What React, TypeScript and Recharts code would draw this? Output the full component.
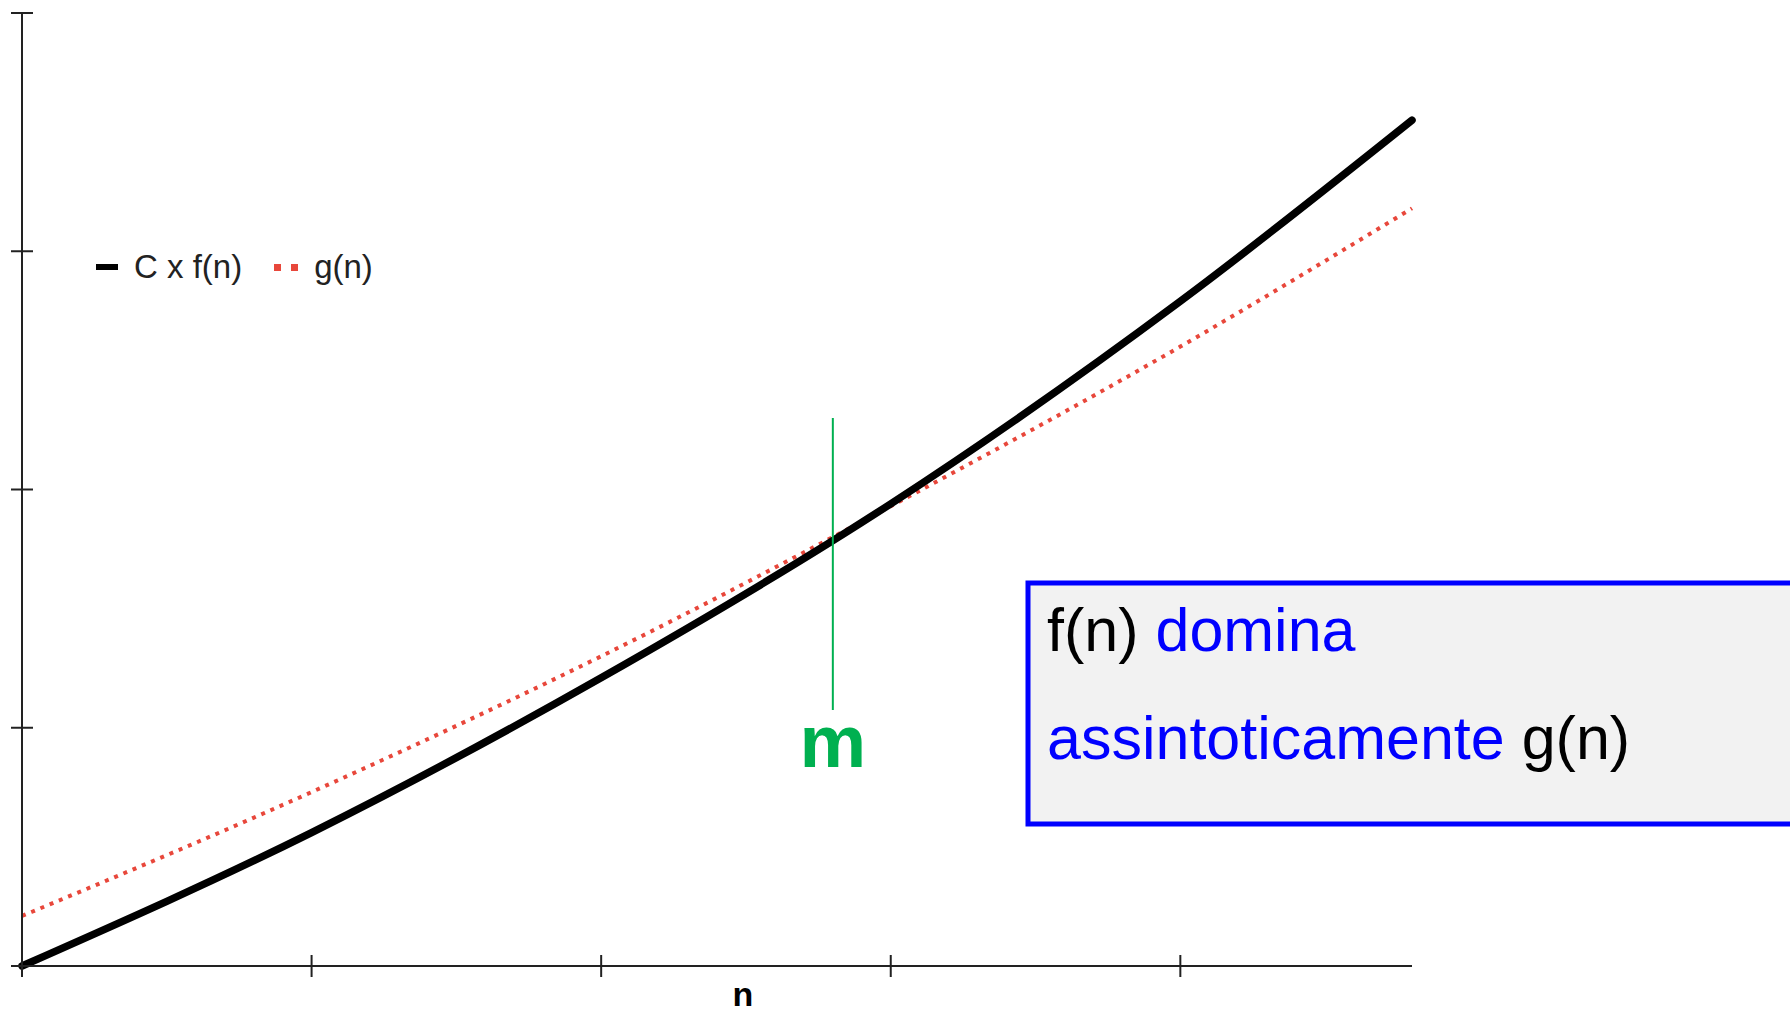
import {
  LineChart,
  Line,
  XAxis,
  YAxis,
  Legend,
  ReferenceLine,
} from "recharts";

// n values along the x axis
const nValues = [0, 1, 2, 3, 4, 4.8];
// C x f(n)
const cfValues = [0, 0.56, 1.21, 1.94, 2.79, 3.55];
// g(n)
const gValues = [0.21, 0.73, 1.3, 1.93, 2.6, 3.18];

const xTicks = [0, 1, 2, 3, 4];
const yTicks = [0, 1, 2, 3, 4];

// crossing point m and the green marker around it
const mX = 2.8;
const mTop = 2.3;
const mBottom = 1.075;

const data = nValues.map((n, i) => ({ n, cf: cfValues[i], g: gValues[i] }));

const FONT = "'Liberation Sans', Arial, sans-serif";
const AXIS = "#222";

const YTick = (props: any) => (
  <line x1={props.x - 11} x2={props.x + 11} y1={props.y} y2={props.y} stroke={AXIS} strokeWidth={2} />
);

const XTick = (props: any) => (
  <line x1={props.x} x2={props.x} y1={props.y - 11} y2={props.y + 11} stroke={AXIS} strokeWidth={2} />
);

const LegendContent = () => (
  <div style={{ display: "flex", alignItems: "center", fontFamily: FONT, fontSize: 33, color: "#222", whiteSpace: "nowrap" }}>
    <span style={{ display: "inline-block", width: 22, height: 6, background: "#000", marginRight: 16 }} />
    <span>C x f(n)</span>
    <span style={{ display: "inline-flex", gap: 10, marginLeft: 32, marginRight: 16 }}>
      <span style={{ width: 7, height: 7, background: "#e8473b" }} />
      <span style={{ width: 7, height: 7, background: "#e8473b" }} />
    </span>
    <span>g(n)</span>
  </div>
);

const App = () => {
  return (
    <div style={{ position: "absolute", left: 0, top: 0, width: 1790, height: 1014, overflow: "hidden", background: "#fff" }}>
      <LineChart width={1790} height={1014} data={data} margin={{ top: 13, right: 378, bottom: 0, left: 0 }}>
        <XAxis
          dataKey="n"
          type="number"
          domain={[0, 4.8]}
          ticks={xTicks}
          interval={0}
          height={48}
          tickSize={0}
          tickMargin={0}
          tickLine={false}
          tick={<XTick />}
          axisLine={{ stroke: AXIS, strokeWidth: 2 }}
          label={{ value: "n", position: "insideBottom", offset: 8, dx: 26, fontSize: 34, fontWeight: "bold", fill: "#000", fontFamily: FONT }}
        />
        <YAxis
          type="number"
          domain={[0, 4]}
          ticks={yTicks}
          interval={0}
          width={22}
          tickSize={0}
          tickMargin={0}
          tickLine={false}
          tick={<YTick />}
          axisLine={{ stroke: AXIS, strokeWidth: 2 }}
        />
        <Legend
          layout="horizontal"
          verticalAlign="middle"
          align="center"
          content={<LegendContent />}
          wrapperStyle={{ top: 248, left: 96, width: "auto" }}
        />
        <Line
          type="monotone"
          dataKey="g"
          stroke="#e8473b"
          strokeWidth={4}
          strokeDasharray="4 6"
          dot={false}
          activeDot={false}
          isAnimationActive={false}
        />
        <Line
          type="monotone"
          dataKey="cf"
          stroke="#000"
          strokeWidth={7.5}
          strokeLinecap="round"
          dot={false}
          activeDot={false}
          isAnimationActive={false}
        />
        <ReferenceLine
          segment={[{ x: mX, y: mTop }, { x: mX, y: mBottom }]}
          stroke="#00b050"
          strokeWidth={2}
          ifOverflow="visible"
          label={{ value: "m", position: "bottom", offset: 4, fontSize: 75, fontWeight: "bold", fill: "#00b050", fontFamily: FONT }}
        />
      </LineChart>
      <svg width={1790} height={1014} style={{ position: "absolute", left: 0, top: 0, pointerEvents: "none" }}>
        <rect x={1028} y={583} width={800} height={241} fill="#f2f2f2" stroke="#0000ff" strokeWidth={5} />
        <text x={1047} y={651} fontFamily={FONT} fontSize={61}>
          <tspan fill="#000">f(n) </tspan>
          <tspan fill="#0000ff">domina</tspan>
        </text>
        <text x={1047} y={759} fontFamily={FONT} fontSize={61}>
          <tspan fill="#0000ff">assintoticamente </tspan>
          <tspan fill="#000">g(n)</tspan>
        </text>
      </svg>
    </div>
  );
};

export default App;
